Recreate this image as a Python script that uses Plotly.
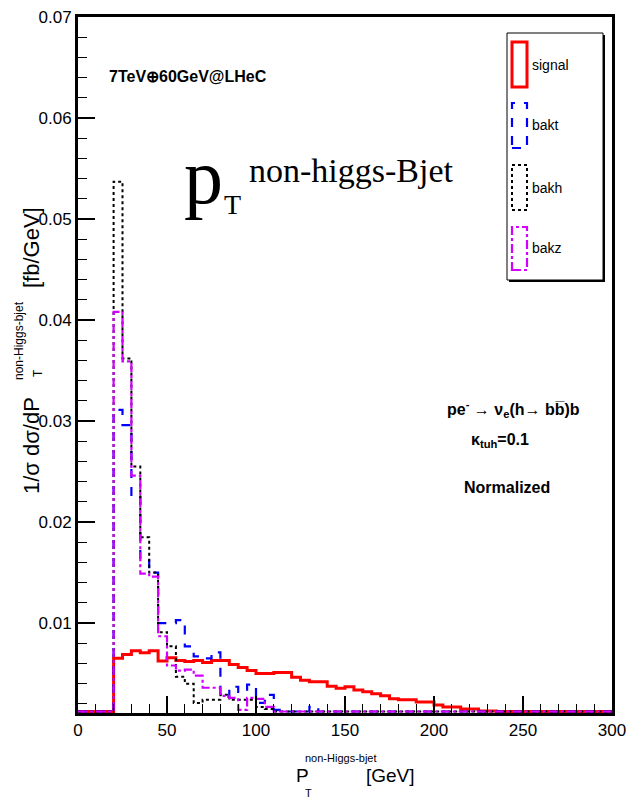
import numpy as np
import plotly.graph_objects as go

# ---------------- data ----------------
bin_edges = list(range(0, 305, 5))  # 5 GeV bins from 0 to 300 GeV

signal = [0, 0, 0, 0,
          0.00653, 0.0069, 0.00726, 0.00706, 0.00726,
          0.00624, 0.00657, 0.0063, 0.0062, 0.0063,
          0.0061, 0.0063, 0.0063, 0.0059, 0.0056,
          0.0053, 0.0050, 0.0050, 0.0051, 0.0051,
          0.00465, 0.00435, 0.0042, 0.0042, 0.00376,
          0.00356, 0.0037, 0.00337, 0.0032, 0.0030,
          0.0028, 0.0025, 0.0024, 0.0024, 0.0022,
          0.0022, 0.0019, 0.0017, 0.0017, 0.0015,
          0.0015, 0.0013, 0.0013,
          0, 0, 0, 0, 0, 0, 0, 0, 0, 0, 0, 0, 0]

bakt = [0, 0, 0, 0,
        0.0311, 0.0296, 0.0225, 0.0162, 0.0150,
        0.0100, 0.0100, 0.0103, 0.0077, 0.0067,
        0.0065, 0.0071, 0.0027, 0.0037, 0.0032,
        0.0039, 0.0021, 0.0029, 0.0014, 0.0012,
        0.0011, 0.0012, 0.0017, 0.0011, 0.0009,
        0.0008, 0.0009, 0.0007, 0.0008, 0.0006,
        0.0007, 0.0006, 0.0005, 0.0006, 0.0005,
        0.0004, 0.0005, 0.0004, 0.0003, 0.0004,
        0.0003, 0.0002, 0.0002,
        0, 0, 0, 0, 0, 0, 0, 0, 0, 0, 0, 0, 0]

bakh = [0, 0, 0, 0,
        0.0537, 0.0362, 0.0255, 0.0185, 0.0150,
        0.0091, 0.0077, 0.0047, 0.0040, 0.0021,
        0.0024, 0.0024, 0.0029, 0.0024, 0.0024,
        0.0024, 0.0017, 0.0015, 0.0012, 0.0010,
        0.0009, 0.0008, 0.0008, 0.0007, 0.0006,
        0.0006, 0.0005, 0.0005, 0.0004, 0.0004,
        0.0003, 0.0003, 0.0003, 0.0002, 0.0002,
        0.0002, 0.0001, 0.0001, 0.0001, 0.0001,
        0.0001, 0.0001, 0.0001,
        0, 0, 0, 0, 0, 0, 0, 0, 0, 0, 0, 0, 0]

bakz = [0, 0, 0, 0,
        0.0408, 0.0359, 0.0246, 0.0149, 0.0146,
        0.0087, 0.0058, 0.0053, 0.0054, 0.0048,
        0.0036, 0.0036, 0.0028, 0.0026, 0.0014,
        0.0026, 0.0025, 0.0017, 0.0012, 0.0010,
        0.0009, 0.0008, 0.0009, 0.0007, 0.0007,
        0.0006, 0.0006, 0.0005, 0.0005, 0.0004,
        0.0004, 0.0003, 0.0003, 0.0003, 0.0002,
        0.0002, 0.0002, 0.0002, 0.0001, 0.0001,
        0.0001, 0.0001, 0.0001,
        0, 0, 0, 0, 0, 0, 0, 0, 0, 0, 0, 0, 0]

series_names = ["signal", "bakt", "bakh", "bakz"]
x_ticks = [0, 50, 100, 150, 200, 250, 300]
y_ticks = [0.01, 0.02, 0.03, 0.04, 0.05, 0.06, 0.07]

# ---------------- style ----------------
W, H = 627, 800
L, R, T, B = 78, 612, 17, 713
Y_MIN, Y_MAX = 0.0011, 0.07
FLOOR = 0.00125

SANS = "Liberation Sans, Arial, sans-serif"
SERIF = "Liberation Serif, Times New Roman, serif"

styles = {
    "signal": dict(color="#ff0000", width=3, dash="solid"),
    "bakt": dict(color="#0000ff", width=2.2, dash="dash"),
    "bakh": dict(color="#000000", width=2, dash="dot"),
    "bakz": dict(color="#d400ff", width=2.2, dash="dashdot"),
}
data_map = {"signal": signal, "bakt": bakt, "bakh": bakh, "bakz": bakz}


def px(xp):
    return (xp - L) / (R - L)


def py(yp):
    return (B - yp) / (B - T)


fig = go.Figure()
for name in series_names:
    vals = data_map[name]
    xs = bin_edges
    ys = list(vals) + [vals[-1]]
    ys_draw = np.maximum(np.array(ys, dtype=float), FLOOR)
    fig.add_trace(go.Scatter(
        x=xs, y=ys_draw, mode="lines", line_shape="hv", name=name,
        line=styles[name], showlegend=False, hoverinfo="skip"))

shapes = []
annotations = []


def ann(text, x, y, size, family=SANS, xanchor="center", yanchor="middle", angle=0):
    annotations.append(dict(text=text, xref="paper", yref="paper", x=px(x), y=py(y),
                            xanchor=xanchor, yanchor=yanchor, textangle=angle,
                            showarrow=False, font=dict(family=family, size=size, color="black")))


# legend box
shapes.append(dict(type="rect", xref="paper", yref="paper",
                   x0=px(509), x1=px(605), y0=py(282), y1=py(35),
                   line=dict(color="black", width=0), fillcolor="black"))
shapes.append(dict(type="rect", xref="paper", yref="paper",
                   x0=px(507), x1=px(603), y0=py(280), y1=py(33),
                   line=dict(color="black", width=1), fillcolor="white"))
leg_rows = [(42, 87), (103, 148), (165, 210), (227, 270)]
for name, (y0, y1) in zip(series_names, leg_rows):
    st = styles[name]
    shapes.append(dict(type="rect", xref="paper", yref="paper",
                       x0=px(512), x1=px(527), y0=py(y1), y1=py(y0),
                       line=dict(color=st["color"], width=st["width"], dash=st["dash"])))
    ann(name, 530, (y0 + y1) / 2, 14, xanchor="left")

# energy label
ann("<b>7TeV\u229560GeV@LHeC</b>", 188, 76, 16)

# big p_T label
ann("p", 182, 222, 78, family=SERIF, xanchor="left", yanchor="bottom")
ann("T", 222, 222, 28, family=SERIF, xanchor="left", yanchor="bottom")
ann("non-higgs-Bjet", 247, 170, 34, family=SERIF, xanchor="left")

# process text
ann("<b>pe<sup>-</sup> \u2192 \u03bd<sub>e</sub>(h\u2192 bb\u0305)b</b>", 513, 409, 16)
ann("<b>\u03ba<sub>tuh</sub>=0.1</b>", 500, 440, 16)
ann("<b>Normalized</b>", 507, 487, 16)

# x axis title
ann("P", 294, 775, 19, xanchor="left")
ann("T", 303, 793, 11, xanchor="left")
ann("non-Higgs-bjet", 303, 758, 11, xanchor="left")
ann("[GeV]", 364, 775, 19, xanchor="left")

# y axis title (rotated)
ann("1/\u03c3 d\u03c3/dP", 31, 445, 22, angle=-90)
ann("T", 38, 373, 12, angle=-90)
ann("non-Higgs-bjet", 19, 341, 12, angle=-90)
ann("[fb/GeV]", 31, 247, 22, angle=-90)

fig.update_layout(
    width=W, height=H,
    margin=dict(l=L, r=W - R, t=T, b=H - B, pad=0, autoexpand=False),
    paper_bgcolor="white", plot_bgcolor="white",
    shapes=shapes, annotations=annotations,
    font=dict(family=SANS, size=17, color="black"),
)
fig.update_xaxes(range=[0, 300], tickvals=x_ticks, ticktext=[str(v) for v in x_ticks],
                 ticks="inside", ticklen=17, tickwidth=1.5, tickcolor="black",
                 minor=dict(ticks="inside", dtick=10, ticklen=9, tickwidth=1.2, tickcolor="black"),
                 showline=True, linewidth=3, linecolor="black", mirror=True,
                 showgrid=False, zeroline=False, ticklabeloverflow="allow", automargin=False,
                 tickfont=dict(family=SANS, size=17, color="black"))
fig.update_yaxes(range=[Y_MIN, Y_MAX], tickvals=y_ticks, ticktext=[f"{v:.2f}" for v in y_ticks],
                 ticks="inside", ticklen=17, tickwidth=1.5, tickcolor="black",
                 minor=dict(ticks="inside", tick0=0, dtick=0.002, ticklen=9, tickwidth=1.2, tickcolor="black"),
                 showline=True, linewidth=3, linecolor="black", mirror=True,
                 showgrid=False, zeroline=False, ticklabeloverflow="allow", automargin=False,
                 tickfont=dict(family=SANS, size=17, color="black"))

fig.write_html("out.html")
